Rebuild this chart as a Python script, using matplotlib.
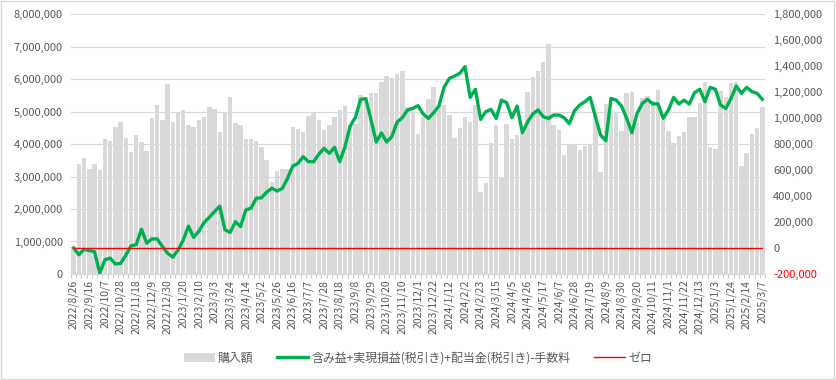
import matplotlib
matplotlib.use('Agg')
import matplotlib.pyplot as plt
import numpy as np
from matplotlib.patches import Rectangle
from matplotlib.ticker import FuncFormatter

plt.rcParams['font.family'] = ['Noto Sans CJK JP', 'DejaVu Sans']

# ----------------------------------------------------------------
# 購入額 (left axis), one value per week
purchase = [
    840000, 3390000, 3560000, 3220000, 3400000, 3200000, 4140000, 4100000, 4530000, 4690000,
    4170000, 3760000, 4270000, 4070000, 3790000, 4790000, 5190000, 4740000, 5850000, 4680000,
    4980000, 5040000, 4580000, 4530000, 4740000, 4820000, 5150000, 5070000, 4370000, 4960000,
    5460000, 4660000, 4580000, 4140000, 4140000, 4100000, 3920000, 3500000, 2840000, 3180000,
    3220000, 3220000, 4530000, 4450000, 4380000, 4860000, 5000000, 4740000, 4430000, 4580000,
    4820000, 5050000, 5170000, 4580000, 4620000, 5500000, 5450000, 5560000, 5560000, 5920000,
    6100000, 6020000, 6150000, 6250000, 5150000, 5000000, 4310000, 4820000, 5400000, 5760000,
    5230000, 5200000, 4890000, 4170000, 4480000, 4820000, 4690000, 5200000, 2530000, 2810000,
    4020000, 4580000, 2990000, 4630000, 4140000, 4280000, 4330000, 5610000, 6070000, 6260000,
    6530000, 7080000, 4580000, 4430000, 3650000, 3970000, 3970000, 3820000, 3940000, 3970000,
    4960000, 3150000, 5230000, 5050000, 4990000, 4410000, 5560000, 5610000, 4660000, 5410000,
    5480000, 5330000, 5660000, 4740000, 4410000, 4020000, 4250000, 4380000, 4820000, 4820000,
    5250000, 5920000, 3920000, 3840000, 5640000, 5440000, 5890000, 5920000, 3310000, 3710000,
    4310000, 4480000, 5130000,
]

# 含み益+実現損益(税引き)+配当金(税引き)-手数料 (right axis)
profit = [
    0, -52000, -10000, -20000, -27000, -195000, -90000, -78000, -123000, -119000,
    -55000, 16000, 27000, 145000, 37000, 70000, 70000, 12000, -40000, -70000,
    -16000, 60000, 168000, 82000, 130000, 196000, 236000, 280000, 322000, 140000,
    120000, 202000, 165000, 293000, 306000, 383000, 386000, 430000, 460000, 438000,
    459000, 536000, 631000, 651000, 703000, 664000, 664000, 723000, 767000, 728000,
    774000, 664000, 779000, 938000, 1005000, 1144000, 1148000, 985000, 815000, 885000,
    815000, 859000, 969000, 1003000, 1062000, 1074000, 1095000, 1031000, 997000, 1041000,
    1092000, 1236000, 1305000, 1323000, 1344000, 1395000, 1159000, 1221000, 990000, 1049000,
    1067000, 997000, 1138000, 1118000, 1003000, 1092000, 887000, 969000, 1031000, 1062000,
    1010000, 997000, 1023000, 1023000, 1003000, 956000, 1056000, 1100000, 1126000, 1159000,
    1010000, 869000, 825000, 1151000, 1138000, 1092000, 997000, 887000, 1036000, 1113000,
    1144000, 1108000, 1110000, 997000, 1062000, 1159000, 1108000, 1138000, 1108000, 1195000,
    1221000, 1126000, 1236000, 1221000, 1100000, 1074000, 1151000, 1246000, 1190000, 1236000,
    1203000, 1190000, 1144000,
]

# 表示される日付ラベル (every 3rd week)
date_labels = [
    '2022/8/26', '2022/9/16', '2022/10/7', '2022/10/28', '2022/11/18', '2022/12/9',
    '2022/12/30', '2023/1/20', '2023/2/10', '2023/3/3', '2023/3/24', '2023/4/14',
    '2023/5/2', '2023/5/26', '2023/6/16', '2023/7/7', '2023/7/28', '2023/8/18',
    '2023/9/8', '2023/9/29', '2023/10/20', '2023/11/10', '2023/12/1', '2023/12/22',
    '2024/1/12', '2024/2/2', '2024/2/23', '2024/3/15', '2024/4/5', '2024/4/26',
    '2024/5/17', '2024/6/7', '2024/6/28', '2024/7/19', '2024/8/9', '2024/8/30',
    '2024/9/20', '2024/10/11', '2024/11/1', '2024/11/22', '2024/12/13', '2025/1/3',
    '2025/1/24', '2025/2/14', '2025/3/7',
]
label_step = 3

# ----------------------------------------------------------------
n = len(purchase)
x = np.arange(n)
zero = np.zeros(n)

fig = plt.figure(figsize=(8.36, 3.8), dpi=100)
fig.patches.append(Rectangle((0.001, 0.002), 0.997, 0.995, transform=fig.transFigure,
                             fill=False, edgecolor='#d9d9d9', lw=1))
ax = fig.add_axes([0.085, 0.279, 0.83, 0.684])
ax2 = ax.twinx()

bars = ax.bar(x, purchase, width=0.85, color='#d9d9d9', label='購入額', zorder=2)
ln1, = ax2.plot(x, profit, color='#00b050', lw=2.4, solid_joinstyle='round',
                label='含み益+実現損益(税引き)+配当金(税引き)-手数料', zorder=3)
ln2, = ax2.plot(x, zero, color='#ff0000', lw=1.0, label='ゼロ', zorder=3)

ax.set_xlim(-0.5, n - 0.5)
ax.set_ylim(0, 8000000)
ax.set_yticks(np.arange(0, 8000001, 1000000))
ax.yaxis.set_major_formatter(FuncFormatter(lambda v, p: f'{int(v):,}'))
ax2.set_ylim(-200000, 1800000)
ax2.set_yticks(np.arange(-200000, 1800001, 200000))
ax2.yaxis.set_major_formatter(FuncFormatter(lambda v, p: f'{int(v):,}'))

ax.grid(axis='y', color='#d9d9d9', lw=0.8, zorder=0)
ax.set_axisbelow(True)

ax.set_xticks(x[::label_step])
ax.set_xticklabels(date_labels, rotation=90, fontsize=7.5, color='#595959')
ax.set_xticks(np.arange(-0.5, n, 1), minor=True)
ax.tick_params(axis='x', which='major', length=0, pad=4)
ax.tick_params(axis='x', which='minor', length=3, color='#bfbfbf', width=0.6)
ax.tick_params(axis='y', length=0, labelsize=8, labelcolor='#595959', pad=6)
ax2.tick_params(axis='y', length=0, labelsize=8, labelcolor='#595959', pad=6)
for t in ax2.get_yticklabels():
    if t.get_text().startswith('-'):
        t.set_color('#ff0000')

for a in (ax, ax2):
    for s in ('top', 'left', 'right'):
        a.spines[s].set_visible(False)
ax.spines['bottom'].set_color('#d9d9d9')
ax2.spines['bottom'].set_visible(False)

fig.legend([bars, ln1, ln2], [bars.get_label(), ln1.get_label(), ln2.get_label()],
           loc='center', bbox_to_anchor=(0.5, 0.058), ncol=3, frameon=False,
           fontsize=8.6, labelcolor='#595959', handlelength=2.6, handleheight=0.8,
           columnspacing=2.0, handletextpad=0.25)

fig.savefig('out.png', dpi=100)
